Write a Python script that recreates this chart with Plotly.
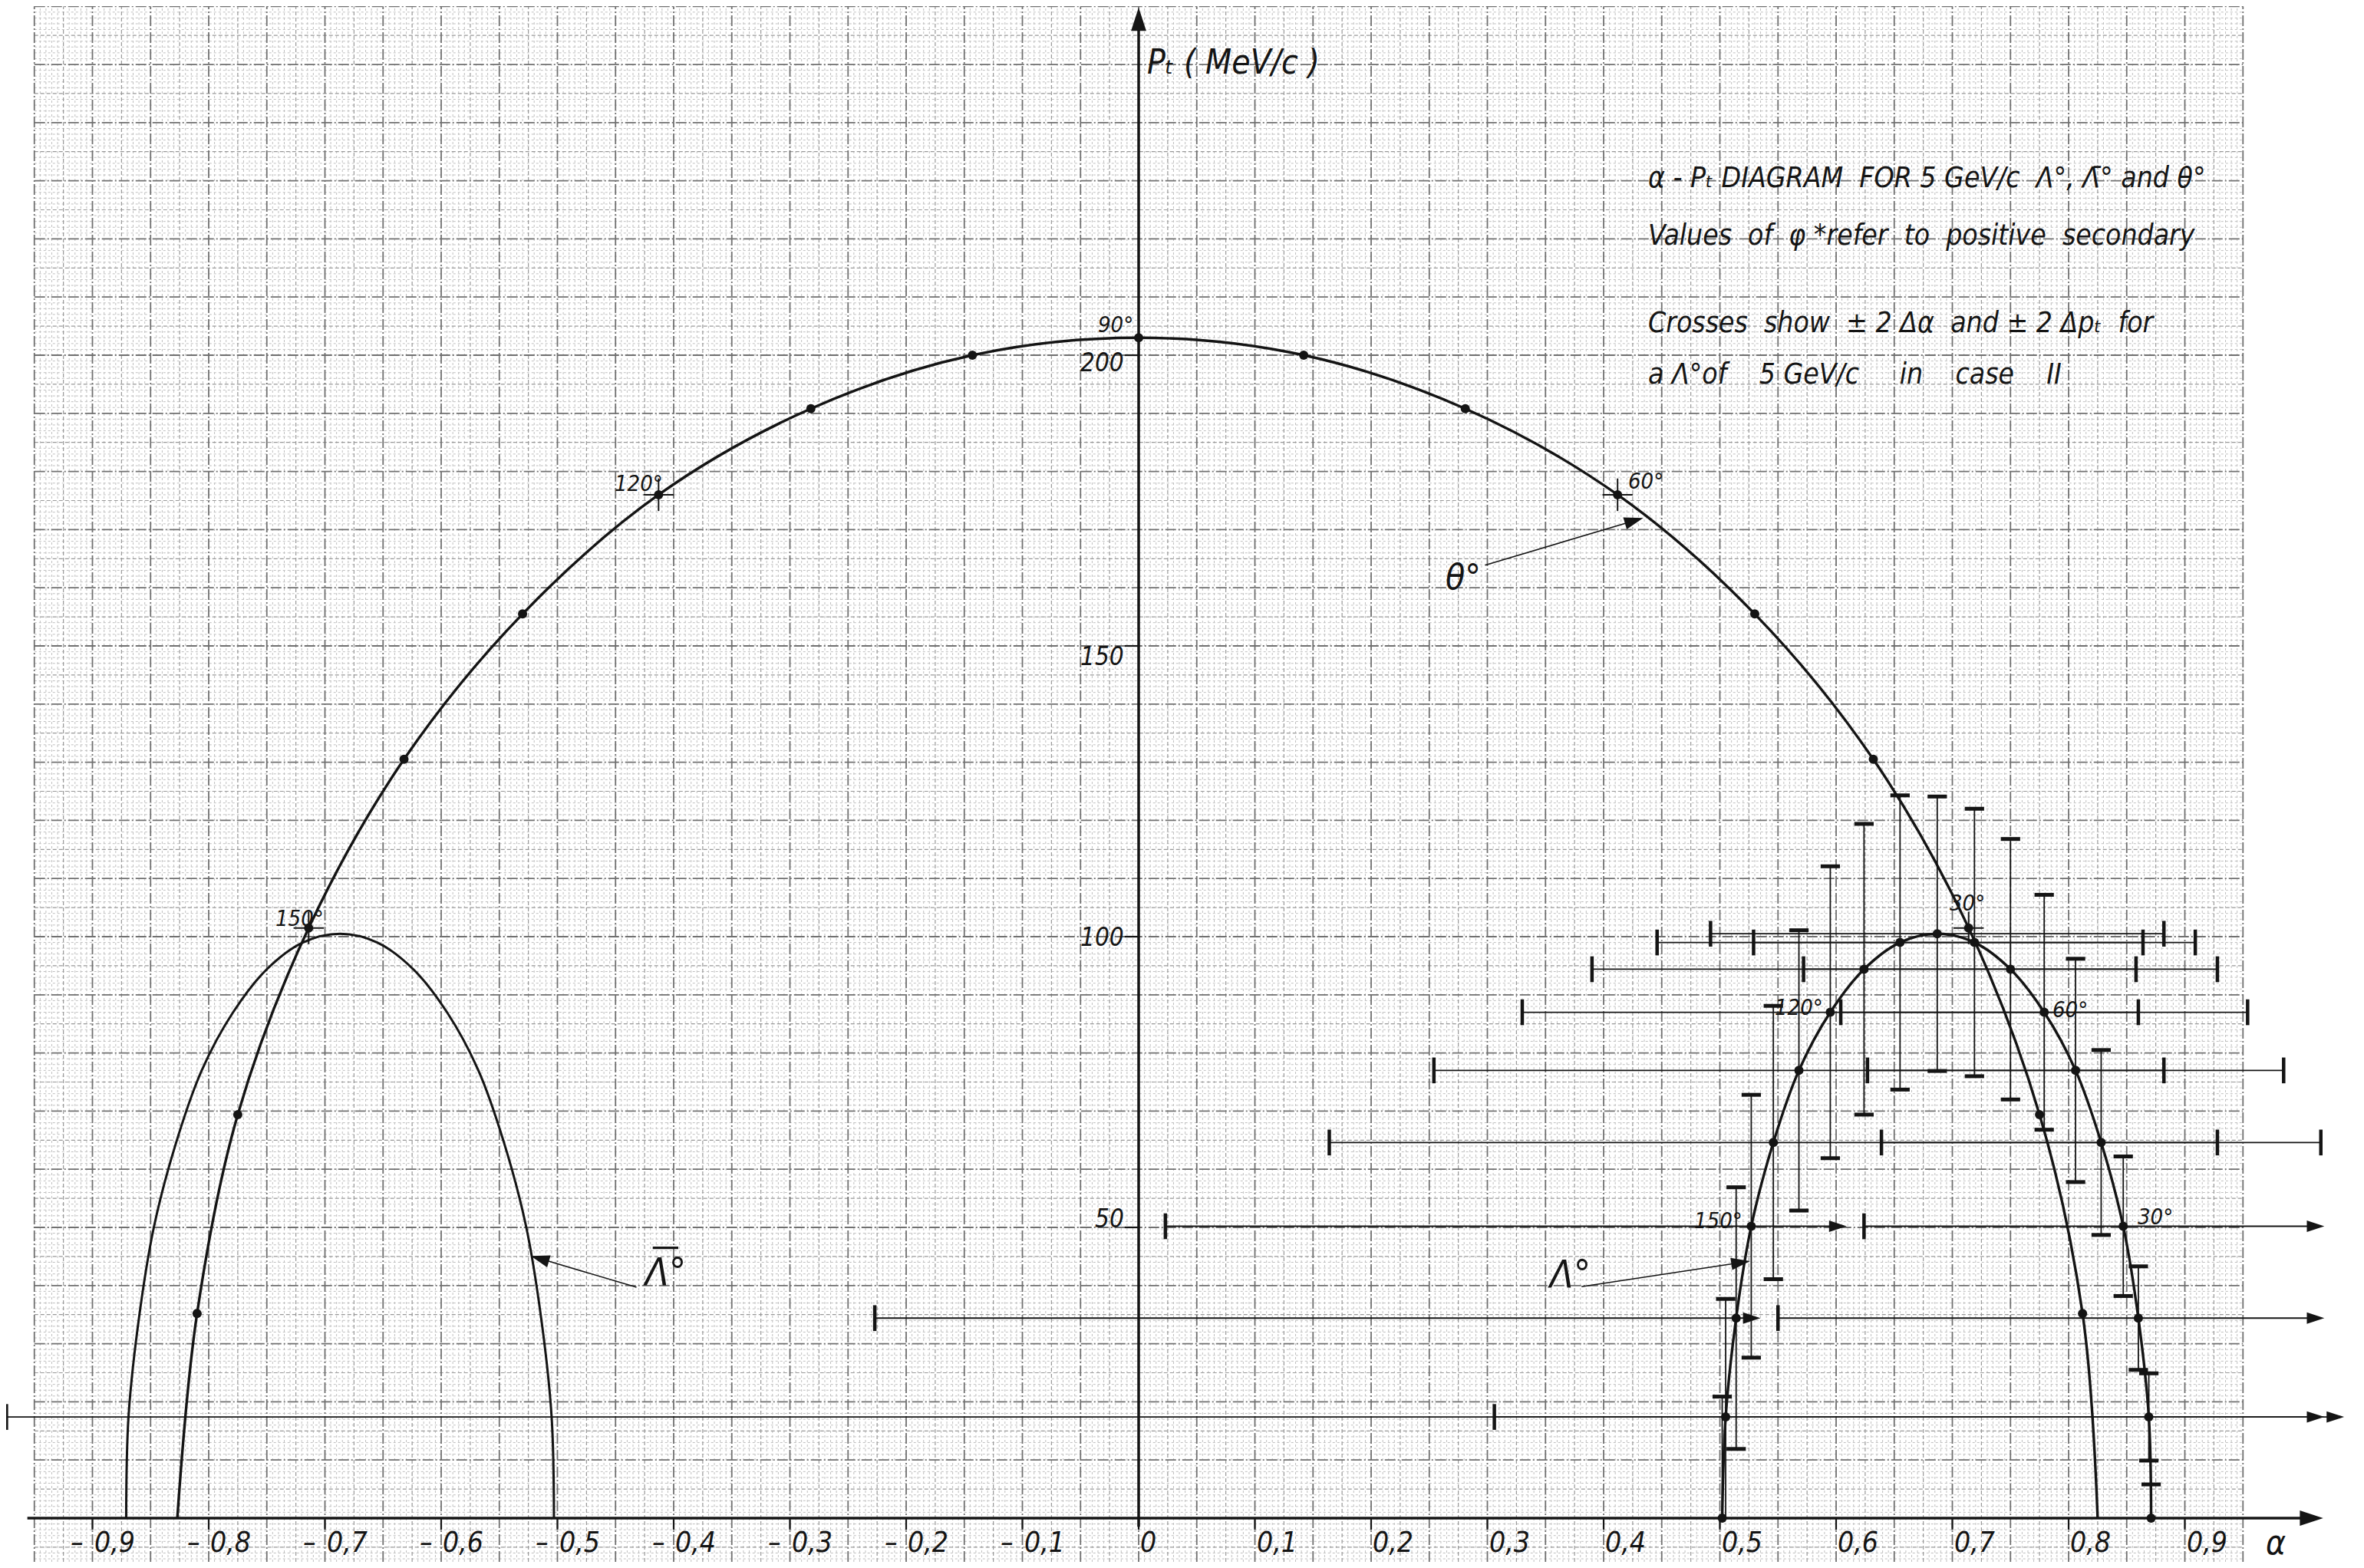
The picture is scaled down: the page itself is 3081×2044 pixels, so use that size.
import plotly.graph_objects as go

# ---------------------------------------------------------------- data
# alpha axis ticks and their hand-written labels
x_tick_values = [-0.9, -0.8, -0.7, -0.6, -0.5, -0.4, -0.3, -0.2, -0.1, 0.0,
                 0.1, 0.2, 0.3, 0.4, 0.5, 0.6, 0.7, 0.8, 0.9]
x_tick_labels = ["- 0,9", "- 0,8", "- 0,7", "- 0,6", "- 0,5", "- 0,4", "- 0,3", "- 0,2", "- 0,1", "0",
                 "0,1", "0,2", "0,3", "0,4", "0,5", "0,6", "0,7", "0,8", "0,9"]
# Pt axis ticks (MeV/c)
y_tick_values = [50, 100, 150, 200]
y_tick_labels = ["50", "100", "150", "200"]

# theta (K0) curve, points every 10 deg of phi*
theta_phi = [0, 10, 20, 30, 40, 50, 60, 70, 80, 90, 100, 110, 120, 130, 140, 150, 160, 170, 180]
theta_alpha = [0.825, 0.812, 0.775, 0.714, 0.632, 0.530, 0.412, 0.281, 0.142, 0.000,
               -0.143, -0.282, -0.413, -0.530, -0.632, -0.714, -0.775, -0.810, -0.827]
theta_pt = [0.0, 35.2, 69.4, 101.5, 130.5, 155.5, 176.0, 190.8, 200.0, 203.0,
            200.0, 190.8, 176.0, 155.5, 130.5, 101.5, 69.4, 35.2, 0.0]
theta_angle_labels = {30: "30°", 60: "60°", 90: "90°", 120: "120°", 150: "150°"}

# Lambda curve, points every 10 deg of phi*
lambda_phi = [0, 10, 20, 30, 40, 50, 60, 70, 80, 90, 100, 110, 120, 130, 140, 150, 160, 170, 180]
lambda_alpha = [0.871, 0.869, 0.860, 0.847, 0.828, 0.806, 0.779, 0.750, 0.719, 0.687,
                0.655, 0.624, 0.595, 0.568, 0.546, 0.527, 0.514, 0.505, 0.502]
lambda_pt = [0.0, 17.4, 34.4, 50.2, 64.6, 77.0, 87.0, 94.4, 99.0, 100.5,
             99.0, 94.4, 87.0, 77.0, 64.6, 50.2, 34.4, 17.4, 0.0]
# crosses: +-2 d(alpha) and +-2 d(pt) for each Lambda point
lambda_dalpha = [None, 0.563, 0.310, 0.223, 0.189, 0.179, 0.175, 0.178, 0.190, 0.195,
                 0.209, 0.234, 0.265, 0.314, 0.382, 0.504, 0.741, 1.479, None]
lambda_dpt = [5.8, 7.5, 8.9, 12.0, 15.9, 19.2, 20.2, 22.4, 23.0, 23.6,
              25.3, 25.0, 25.1, 24.1, 23.5, 22.6, 22.5, 20.3, 20.9]
lambda_angle_labels = {30: "30°", 60: "60°", 120: "120°", 150: "150°"}

# anti-Lambda curve
lambdabar_alpha = [-0.871, -0.869, -0.860, -0.847, -0.828, -0.806, -0.779, -0.750, -0.719, -0.687,
                   -0.655, -0.624, -0.595, -0.568, -0.546, -0.527, -0.514, -0.505, -0.503]
lambdabar_pt = [0.0, 17.4, 34.4, 50.2, 64.6, 77.0, 87.0, 94.4, 99.0, 100.5,
                99.0, 94.4, 87.0, 77.0, 64.6, 50.2, 34.4, 17.4, 0.0]

NB = "\u00a0"
title_lines = [
    "α - Pₜ DIAGRAM" + NB + " FOR 5 GeV/c" + NB + " Λ°, Λ\u0304° and θ°",
    "Values" + NB + " of" + NB + " φ *refer" + NB + " to" + NB + " positive" + NB + " secondary",
    "Crosses" + NB + " show" + NB + " ± 2 Δα" + NB + " and ± 2 Δpₜ" + NB + " for",
    "a Λ°of" + NB * 4 + "5 GeV/c" + NB * 5 + "in" + NB * 4 + "case" + NB * 4 + "II",
]

# ---------------------------------------------------------------- style
FONT = "Liberation Sans Narrow, DejaVu Sans Condensed, DejaVu Sans, sans-serif"
INK = "#141414"
W, H = 3065, 2028                 # fits inside the page's default 8px body margin
X_RANGE = [-0.97426, 1.04884]
Y_RANGE = [-7.52, 260.03]
X_CLIP = 1.02

fig = go.Figure()


def seg_trace(segs, color, width, dash="solid"):
    xs, ys = [], []
    for (x0, y0, x1, y1) in segs:
        xs += [x0, x1, None]
        ys += [y0, y1, None]
    return go.Scatter(x=xs, y=ys, mode="lines", hoverinfo="skip", showlegend=False,
                      line=dict(color=color, width=width, dash=dash))


def arrow_trace(xs, ys, width, size):
    return go.Scatter(x=xs, y=ys, mode="lines+markers", hoverinfo="skip", showlegend=False,
                      cliponaxis=False, line=dict(color=INK, width=width),
                      marker=dict(symbol="arrow", angleref="previous", size=size, color=INK,
                                  line=dict(width=0)))


# ---- graph paper (1 mm / 5 mm / 1 cm)
PX = (-0.95, 0.95)
PY = (Y_RANGE[0], 260)
fine, med, major = [], [], []
for k in range(-190, 191):
    a = k * 0.005
    s = (a, PY[0], a, PY[1])
    (major if k % 10 == 0 else med if k % 5 == 0 else fine).append(s)
for k in range(-7, 261):
    s = (PX[0], k, PX[1], k)
    (major if k % 10 == 0 else med if k % 5 == 0 else fine).append(s)
fig.add_trace(seg_trace(fine, "#c0c0c0", 1, "dot"))
fig.add_trace(seg_trace(med, "#999999", 1.2, "5px,3px"))
fig.add_trace(seg_trace(major, "#707070", 1.8, "14px,3px,2px,3px"))

# ---- axes
fig.add_trace(arrow_trace([-0.956, 1.019], [0, 0], 3.5, 32))
fig.add_trace(arrow_trace([0, 0], [-1.5, 259.8], 3.5, 32))
tick_segs = [(v, 0, v, -2.0) for v in x_tick_values] + [(-0.012, v, 0, v) for v in y_tick_values]
fig.add_trace(seg_trace(tick_segs, INK, 2.2))

annotations = []


def label(x, y, text, size, xanchor="center", yanchor="middle"):
    annotations.append(dict(x=x, y=y, xref="x", yref="y", text=text, showarrow=False,
                            xanchor=xanchor, yanchor=yanchor,
                            font=dict(family=FONT, size=size, color=INK, style="italic")))


for v, t in zip(x_tick_values, x_tick_labels):
    num = t.replace("-", "").strip()
    label(v, -4.2, num, 37, xanchor="left")
    if t.startswith("-"):
        label(v - 0.006, -4.2, "–", 37, xanchor="right")
label(0.978, -4.2, "α", 44)

y_label_center = {50: 51.5, 100: 100.0, 150: 148.2, 200: 198.8}
for v, t in zip(y_tick_values, y_tick_labels):
    label(-0.011, y_label_center[v], t, 33, xanchor="right")

label(0.006, 250.5, "Pₜ ( MeV/c )", 44, xanchor="left")

title_y = [230.5, 220.6, 205.6, 196.8]
for line, ty in zip(title_lines, title_y):
    label(0.437, ty, line, 37, xanchor="left")

# ---- theta curve
fig.add_trace(go.Scatter(x=theta_alpha, y=theta_pt, mode="lines", hoverinfo="skip", showlegend=False,
                         line=dict(color=INK, width=3.4, shape="spline", smoothing=1.0)))
fig.add_trace(go.Scatter(x=theta_alpha[1:-1], y=theta_pt[1:-1], mode="markers", hoverinfo="skip",
                         showlegend=False, marker=dict(color=INK, size=12)))
small_cross = []
for ph, a, p in zip(theta_phi, theta_alpha, theta_pt):
    if ph in theta_angle_labels and ph != 90:
        small_cross += [(a - 0.013, p, a + 0.013, p), (a, p - 2.8, a, p + 2.8)]
fig.add_trace(seg_trace(small_cross, INK, 2))
theta_label_pos = {30: (0.713, 105.8, "center"), 60: (0.420, 178.4, "left"), 90: (-0.003, 205.3, "right"),
                   120: (-0.408, 178.0, "right"), 150: (-0.700, 103.2, "right")}
for ph, txt in theta_angle_labels.items():
    x, y, xa = theta_label_pos[ph]
    label(x, y, txt, 29, xanchor=xa)

# ---- anti-Lambda curve
fig.add_trace(go.Scatter(x=lambdabar_alpha, y=lambdabar_pt, mode="lines", hoverinfo="skip",
                         showlegend=False, line=dict(color=INK, width=3, shape="spline", smoothing=1.0)))

# ---- Lambda crosses
vsegs, hsegs, vcaps, hcaps = [], [], [], []
arrow_tips = {}
for i in range(len(lambda_phi)):
    a, p, dp, da, ph = lambda_alpha[i], lambda_pt[i], lambda_dpt[i], lambda_dalpha[i], lambda_phi[i]
    top, bot = p + dp, p - dp
    vsegs.append((a, max(bot, 0), a, top))
    vcaps.append((a, top))
    if bot > 0:
        vcaps.append((a, bot))
    if da is None:
        continue
    left, right = a - da, a + da
    hcaps.append((left, p))
    j = lambda_phi.index(180 - ph)
    if right > X_CLIP:
        partner_left = lambda_alpha[j] - lambda_dalpha[j]
        if ph > 90 and partner_left > a:
            right = partner_left - 0.015
        else:
            right = X_CLIP + (0.017 if p in arrow_tips else 0.0)
            arrow_tips[p] = right
        fig.add_trace(arrow_trace([left, right], [p, p], 1.8, 24))
    else:
        hsegs.append((left, p, right, p))
        hcaps.append((right, p))

fig.add_trace(seg_trace(vsegs, INK, 1.8))
fig.add_trace(seg_trace(hsegs, INK, 1.8))
fig.add_trace(go.Scatter(x=[c[0] for c in vcaps], y=[c[1] for c in vcaps], mode="markers", hoverinfo="skip",
                         showlegend=False, marker=dict(symbol="line-ew", size=18, line=dict(color=INK, width=5))))
fig.add_trace(go.Scatter(x=[c[0] for c in hcaps], y=[c[1] for c in hcaps], mode="markers", hoverinfo="skip",
                         showlegend=False, marker=dict(symbol="line-ns", size=24, line=dict(color=INK, width=4.5))))

# ---- Lambda curve
fig.add_trace(go.Scatter(x=lambda_alpha, y=lambda_pt, mode="lines", hoverinfo="skip", showlegend=False,
                         line=dict(color=INK, width=3.4, shape="spline", smoothing=1.0)))
fig.add_trace(go.Scatter(x=lambda_alpha, y=lambda_pt, mode="markers", hoverinfo="skip", showlegend=False,
                         marker=dict(color=INK, size=12)))
lambda_label_pos = {30: (0.858, 51.8, "left"), 60: (0.785, 87.5, "left"), 120: (0.590, 87.8, "right"),
                    150: (0.521, 51.2, "right")}
for ph, txt in lambda_angle_labels.items():
    x, y, xa = lambda_label_pos[ph]
    label(x, y, txt, 29, xanchor=xa)

# ---- pointers
fig.add_trace(arrow_trace([0.298, 0.434], [163.9, 172.0], 1.6, 26))
label(0.279, 161.9, "θ°", 46)
fig.add_trace(arrow_trace([0.381, 0.526], [39.8, 44.2], 1.6, 26))
label(0.370, 42.0, "Λ°", 50)
fig.add_trace(arrow_trace([-0.432, -0.523], [39.7, 45.1], 1.6, 26))
LBAR_X, LBAR_Y = -0.408, 42.3
label(LBAR_X, LBAR_Y, "Λ°", 50)
# the bar over the anti-Lambda symbol
fig.add_trace(seg_trace([(LBAR_X - 0.010, LBAR_Y + 4.2, LBAR_X + 0.012, LBAR_Y + 4.2)], INK, 3.2))

fig.update_layout(
    width=W, height=H, autosize=False,
    margin=dict(l=0, r=0, t=0, b=0, pad=0),
    paper_bgcolor="white", plot_bgcolor="white",
    showlegend=False, hovermode=False,
    xaxis=dict(range=X_RANGE, visible=False, fixedrange=True),
    yaxis=dict(range=Y_RANGE, visible=False, fixedrange=True),
    annotations=annotations,
)
fig.write_html("out.html", config={"displayModeBar": False})
